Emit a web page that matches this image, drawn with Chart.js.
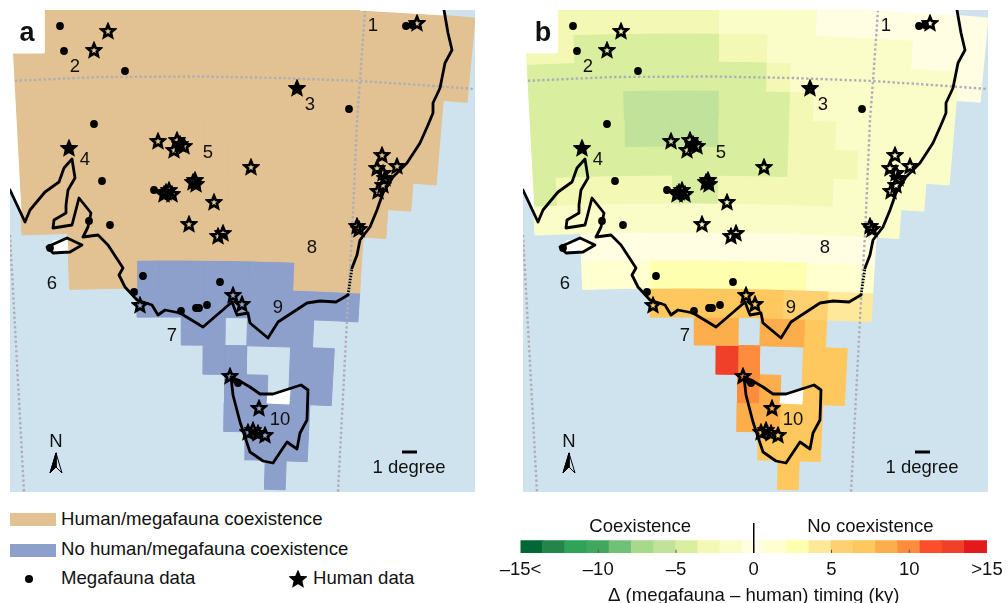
<!DOCTYPE html>
<html>
<head>
<meta charset="utf-8">
<script src="https://cdn.jsdelivr.net/npm/chart.js@4"></script>
<style>
body { margin: 0; background: #fff; width: 1008px; height: 603px; overflow: hidden; position: relative; font-family: "Liberation Sans", sans-serif; color: #111; }
canvas { position: absolute; }
.map { top: 10px; background: #cfe3ef; }
.txt { position: absolute; font-size: 18.6px; line-height: 20px; white-space: nowrap; }
.swatch { position: absolute; left: 10px; width: 46px; height: 13px; }
</style>
</head>
<body>
<canvas id="mapA" class="map" width="465" height="482" style="left:10px"></canvas>
<canvas id="mapB" class="map" width="465" height="482" style="left:523px"></canvas>
<canvas id="scaleBar" width="528" height="88" style="left:480px;top:515px"></canvas>

<div class="swatch" style="top:513px;background:#e2c293"></div>
<div class="txt" style="left:61px;top:509px">Human/megafauna coexistence</div>
<div class="swatch" style="top:544px;background:#8d9fcb"></div>
<div class="txt" style="left:61px;top:539px">No human/megafauna coexistence</div>
<div style="position:absolute;left:25px;top:575px;width:8px;height:8px;border-radius:50%;background:#000"></div>
<div class="txt" style="left:61px;top:568px">Megafauna data</div>
<canvas id="legendStar" width="18" height="18" style="left:289px;top:570px"></canvas>
<div class="txt" style="left:313px;top:568px">Human data</div>

<script>
// Colour scale (ky), one colour per step
const scaleCentres = [-14.29, -12.86, -11.43, -10, -8.57, -7.14, -5.71, -4.29, -2.86, -1.43, 0, 1.43, 2.86, 4.29, 5.71, 7.14, 8.57, 10, 11.43, 12.86, 14.29];
const scaleColours = ['#006837', '#23854a', '#2fa35a', '#3fa85e', '#70c077', '#a8d98a', '#c0e29a', '#d9ef9f', '#f3f8b5', '#fbfdc8', '#fffde2', '#ffffd0', '#ffffb0', '#fee89a', '#fed070', '#fec85e', '#fdae4c', '#fd8d3c', '#fc4e2a', '#f0402a', '#e31a1c'];
const scaleTicks = [-15, -10, -5, 0, 5, 10, 15];
const scaleTickLabels = ['\u201315<', '\u201310', '\u20135', '0', '5', '10', '>15'];
const minorTicks = [-10, -5, 5, 10];

// Megafauna minus human timing per grid cell (ky), rows north to south, null = no cell
const _ = null;
const deltaGrid = [
  [-2.9, -2.9, -2.9, -2.9, -2.9, -2.9, -2.9, -2.9, -1.4, -1.4, -1.4, -1.4, 0, 0, 0, 0, 0, 0, 0],
  [-2.9, -2.9, -4.3, -4.3, -4.3, -4.3, -4.3, -4.3, -2.9, -2.9, -1.4, -1.4, -1.4, -1.4, -1.4, -1.4, 0, 0, 0],
  [-4.3, -4.3, -4.3, -4.3, -4.3, -4.3, -4.3, -4.3, -4.3, -4.3, -2.9, -1.4, -1.4, -1.4, -1.4, -1.4, -1.4, -1.4, 0],
  [-4.3, -4.3, -4.3, -4.3, -5.7, -5.7, -5.7, -5.7, -4.3, -4.3, -4.3, -2.9, -1.4, -1.4, -1.4, -1.4, -1.4, -1.4, _],
  [-4.3, -4.3, -4.3, -4.3, -5.7, -5.7, -5.7, -5.7, -4.3, -4.3, -4.3, -2.9, -2.9, -1.4, -1.4, -1.4, -1.4, -1.4, _],
  [-4.3, -4.3, -4.3, -4.3, -4.3, -4.3, -4.3, -4.3, -4.3, -4.3, -4.3, -2.9, -2.9, -2.9, -1.4, -1.4, -1.4, -1.4, _],
  [-4.3, -2.9, -2.9, -2.9, -2.9, -2.9, -4.3, -4.3, -2.9, -2.9, -2.9, -2.9, -2.9, -1.4, -1.4, -1.4, -1.4, _, _],
  [-1.4, -1.4, -1.4, -1.4, -1.4, -1.4, -1.4, -1.4, -1.4, -1.4, -1.4, -1.4, -1.4, -1.4, -1.4, -1.4, _, _, _],
  [_, _, 0, 0, 0, 0, 0, 0, 0, 0, 0, 0, 0, 0, 0, _, _, _, _],
  [_, _, 1.4, 1.4, 1.4, 2.9, 2.9, 2.9, 2.9, 2.9, 2.9, 2.9, 1.4, 1.4, 1.4, _, _, _, _],
  [_, _, _, _, _, 7.1, 7.1, 7.1, 7.1, 7.1, 7.1, 5.7, 5.7, 4.3, 4.3, _, _, _, _],
  [_, _, _, _, _, _, _, 8.6, 8.6, _, 8.6, 8.6, 7.1, _, _, _, _, _, _],
  [_, _, _, _, _, _, _, _, 12.9, 10, _, _, 7.1, 7.1, _, _, _, _, _],
  [_, _, _, _, _, _, _, _, _, 10, 8.6, _, 7.1, 7.1, _, _, _, _, _],
  [_, _, _, _, _, _, _, _, _, 8.6, 8.6, 7.1, 7.1, _, _, _, _, _, _],
  [_, _, _, _, _, _, _, _, _, _, 7.1, 7.1, 7.1, _, _, _, _, _, _],
  [_, _, _, _, _, _, _, _, _, _, _, 7.1, _, _, _, _, _, _, _]
];
const rowEdges = [5, 33, 61, 90, 118, 146, 175, 203, 232, 260, 288, 317, 345, 374, 402, 431, 459, 488];

// Site positions
const megafaunaX = [60, 64, 125, 94, 102, 154, 89, 110, 406, 412, 349, 50, 143, 134, 220, 181, 196, 199, 207, 238];
const megafaunaY = [26, 51, 71, 124, 181, 190, 221, 225, 26, 25, 109, 248, 276, 292, 282, 311, 308, 308, 305, 383];
const humanX = [108, 94, 158, 177, 180, 184, 174, 195, 193, 196, 166, 169, 172, 164, 214, 189, 218, 223, 251, 417, 382, 377, 397, 383, 385, 383, 378, 357, 359, 140, 233, 242, 230, 259, 253, 248, 258, 265];
const humanY = [31, 50, 141, 140, 144, 146, 150, 180, 182, 184, 192, 190, 194, 194, 202, 224, 236, 233, 167, 23, 155, 168, 166, 173, 178, 185, 191, 226, 229, 305, 295, 304, 376, 408, 430, 432, 433, 435];
const humanFilledX = [69, 297];
const humanFilledY = [148, 88];

// Coast and island outlines
const coastMain = [[10, 190], [25, 222], [30, 210], [45, 192], [59, 182], [64, 168], [72, 159], [75, 178], [68, 190], [66, 205], [66, 213], [54, 220], [53, 228], [72, 225], [79, 198], [91, 213], [88, 227], [83, 237], [98, 235], [108, 245], [123, 268], [119, 275], [125, 287], [137, 300], [152, 305], [158, 315], [165, 310], [180, 313], [203, 327], [232, 302], [237, 315], [248, 313], [250, 323], [268, 338], [278, 322], [307, 303], [320, 301], [336, 302], [348, 295]];
const coastDotted = [[348, 295], [352, 268]];
const coastEast = [[352, 268], [357, 255], [358, 250], [360, 240], [370, 227], [377, 210], [383, 193], [393, 177], [407, 163], [420, 143], [428, 125], [433, 113], [433, 103], [440, 88], [445, 63], [452, 50], [448, 33], [444, 10]];
const tasmania = [[231, 377], [233, 395], [240, 422], [250, 452], [263, 461], [273, 463], [287, 442], [297, 449], [300, 433], [307, 420], [308, 390], [301, 385], [273, 394], [260, 394], [250, 387], [238, 380], [231, 377]];
const kangaroo = [[47, 247], [67, 238], [82, 245], [70, 252], [53, 253], [47, 247]];
const parallel = [[10, 81], [100, 77], [200, 76.5], [280, 78], [360, 81], [420, 85], [475, 89]];
const meridianEast = [[365, 10], [360, 81], [357, 120], [352, 235], [348, 300], [338, 492]];
const meridianWest = [[10, 235], [24, 492]];
const blankAreas = [
  [[10, 10], [44, 10], [44, 53], [12.5, 53], [21, 212], [10, 190]],
  [[360, 10], [444, 10], [444, 15]],
  [[53, 241], [67, 239], [68, 252], [53, 253]],
  [[268, 394], [290, 390], [289, 404], [267, 403]]
];
const regionNames = ['1', '2', '3', '4', '5', '6', '7', '8', '9', '10'];
const regionX = [373, 75, 310, 85, 208, 52, 172, 312, 278, 280];
const regionY = [26, 67, 105, 160, 153, 284, 336, 248, 308, 420];

const toXY = pts => pts.map(p => ({ x: p[0], y: p[1] }));

// grid column/row -> map position, the grid fans out slightly
function gridPoint(col, v) {
  const u = 23 + 22.6 * col;
  const x = 182 + (u - 182) * (1 - 0.00034 * (v - 250));
  return [x, v + 0.00014 * (x - 170) * (x - 170)];
}

function starCanvas(filled) {
  const c = document.createElement('canvas');
  c.width = 18; c.height = 18;
  drawStar(c, filled);
  return c;
}
function drawStar(c, filled) {
  const g = c.getContext('2d');
  g.beginPath();
  for (let i = 0; i < 10; i++) {
    const r = i % 2 ? 3 : 6.6;
    const a = -Math.PI / 2 + i * Math.PI / 5;
    g.lineTo(9 + r * Math.cos(a), 9.5 + r * Math.sin(a));
  }
  g.closePath();
  g.lineWidth = 2.7;
  g.lineJoin = 'miter';
  g.strokeStyle = '#000';
  g.stroke();
  if (filled) { g.fillStyle = '#000'; g.fill(); }
}
drawStar(document.getElementById('legendStar'), true);

const openStar = starCanvas(false);
const solidStar = starCanvas(true);

function deltaColour(d) {
  let best = 0;
  scaleCentres.forEach((c, i) => { if (Math.abs(c - d) < Math.abs(scaleCentres[best] - d)) best = i; });
  return scaleColours[best];
}

function shape(pts, colour) {
  return { data: toXY(pts.concat([pts[0]])), showLine: true, fill: 'shape', backgroundColor: colour, borderColor: colour, borderWidth: 1, pointRadius: 0 };
}
function outline(pts, width, dash, colour) {
  return { data: toXY(pts), showLine: true, fill: false, borderColor: colour || '#000', borderWidth: width, borderDash: dash || [], borderJoinStyle: 'round', borderCapStyle: dash ? 'butt' : 'round', pointRadius: 0 };
}

// labels drawn at map/axis positions
const textPlugin = {
  id: 'textPlugin',
  afterDatasetsDraw(chart, args, opts) {
    const ctx = chart.ctx;
    ctx.save();
    ctx.textAlign = 'center';
    ctx.textBaseline = 'middle';
    ctx.fillStyle = '#111';
    (opts.items || []).forEach(t => {
      ctx.font = t.font || '18.5px "Liberation Sans"';
      ctx.fillText(t.text, chart.scales.x.getPixelForValue(t.x), chart.scales.y.getPixelForValue(t.y));
    });
    ctx.restore();
  }
};

function mapChart(id, letter, letterX, cellColour) {
  const datasets = [];
  // first dataset is painted last
  datasets.push({ data: humanFilledX.map((x, i) => ({ x, y: humanFilledY[i] })), pointStyle: solidStar, pointRadius: 8 });
  datasets.push({ data: humanX.map((x, i) => ({ x, y: humanY[i] })), pointStyle: openStar, pointRadius: 8 });
  datasets.push({ data: megafaunaX.map((x, i) => ({ x, y: megafaunaY[i] })), pointStyle: 'circle', pointRadius: 3.9, backgroundColor: '#000', borderWidth: 0 });
  datasets.push(outline(coastMain, 2.8));
  datasets.push(outline(coastDotted, 2.8, [1.5, 1.5]));
  datasets.push(outline(coastEast, 2.8));
  datasets.push(outline(tasmania, 2.8));
  datasets.push(outline(kangaroo, 2.8));
  // north arrow and scale bar
  datasets.push(outline([[56, 453], [62, 473], [56, 467], [50, 473], [56, 453]], 1));
  datasets.push(shape([[56, 453], [56, 467], [50, 473]], '#000'));
  datasets.push(outline([[402, 452], [417, 452]], 3, [100, 0]));
  blankAreas.forEach(a => datasets.push(shape(a, '#fff')));
  datasets.push(outline(parallel, 2.4, [2.4, 2.4], '#aeaeb8'));
  datasets.push(outline(meridianEast, 2.4, [2.4, 2.4], '#aeaeb8'));
  datasets.push(outline(meridianWest, 2.4, [2.4, 2.4], '#aeaeb8'));
  deltaGrid.forEach((row, r) => row.forEach((d, c) => {
    if (d === null) return;
    const corners = [gridPoint(c, rowEdges[r]), gridPoint(c + 1, rowEdges[r]), gridPoint(c + 1, rowEdges[r + 1]), gridPoint(c, rowEdges[r + 1])];
    datasets.push(shape(corners, cellColour(d)));
  }));

  const items = regionNames.map((t, i) => ({ text: t, x: regionX[i], y: regionY[i] }));
  items.push({ text: letter, x: letterX, y: 34, font: 'bold 27px "Liberation Sans"' });
  items.push({ text: 'N', x: 56, y: 442 });
  items.push({ text: '1 degree', x: 409, y: 468 });

  new Chart(document.getElementById(id), {
    type: 'scatter',
    data: { datasets },
    options: {
      responsive: false,
      animation: false,
      devicePixelRatio: 1,
      events: [],
      layout: { padding: 0, autoPadding: false },
      scales: {
        x: { type: 'linear', min: 10, max: 475, display: false },
        y: { type: 'linear', min: 10, max: 492, reverse: true, display: false }
      },
      plugins: { legend: { display: false }, tooltip: { enabled: false }, textPlugin: { items } }
    },
    plugins: [textPlugin]
  });
}

Chart.defaults.font.family = '"Liberation Sans"';
mapChart('mapA', 'a', 27, d => d > 2 ? '#8d9fcb' : '#e2c293');
mapChart('mapB', 'b', 30, deltaColour);

// Colour bar
new Chart(document.getElementById('scaleBar'), {
  type: 'bar',
  data: {
    datasets: [
      { type: 'scatter', data: [{ x: 0, y: 0 }, { x: 0, y: 2.4 }], showLine: true, borderColor: '#000', borderWidth: 1.5, pointRadius: 0 },
      { type: 'scatter', data: minorTicks.map(x => ({ x, y: 0.1 })), pointStyle: 'line', rotation: 90, pointRadius: 2, borderColor: '#555', borderWidth: 1 },
      { data: scaleCentres.map(x => ({ x, y: 1 })), backgroundColor: scaleColours, barThickness: 23 }
    ]
  },
  options: {
    responsive: false,
    animation: false,
    devicePixelRatio: 1,
    events: [],
    layout: { padding: { left: 40.5, right: 21, top: 8, bottom: 0 }, autoPadding: false },
    scales: {
      x: {
        type: 'linear',
        min: -15,
        max: 15,
        offset: false,
        afterBuildTicks(scale) { scale.ticks = scaleTicks.map(value => ({ value })); },
        afterFit(scale) { scale.height = 50; },
        border: { display: false },
        grid: { display: false },
        ticks: {
          autoSkip: false,
          maxRotation: 0,
          padding: -2,
          color: '#111',
          font: { size: 18.5 },
          callback: (v, i) => scaleTickLabels[i]
        },
        title: { display: true, text: '\u0394 (megafauna \u2013 human) timing (ky)', color: '#111', font: { size: 18.6 }, padding: { top: 2, bottom: -4 } }
      },
      y: { min: 0, max: 2.4, display: false }
    },
    plugins: {
      legend: { display: false },
      tooltip: { enabled: false },
      textPlugin: { items: [{ text: 'Coexistence', x: -7.3, y: 2.08 }, { text: 'No coexistence', x: 7.5, y: 2.08 }] }
    }
  },
  plugins: [textPlugin]
});
</script>
</body>
</html>
